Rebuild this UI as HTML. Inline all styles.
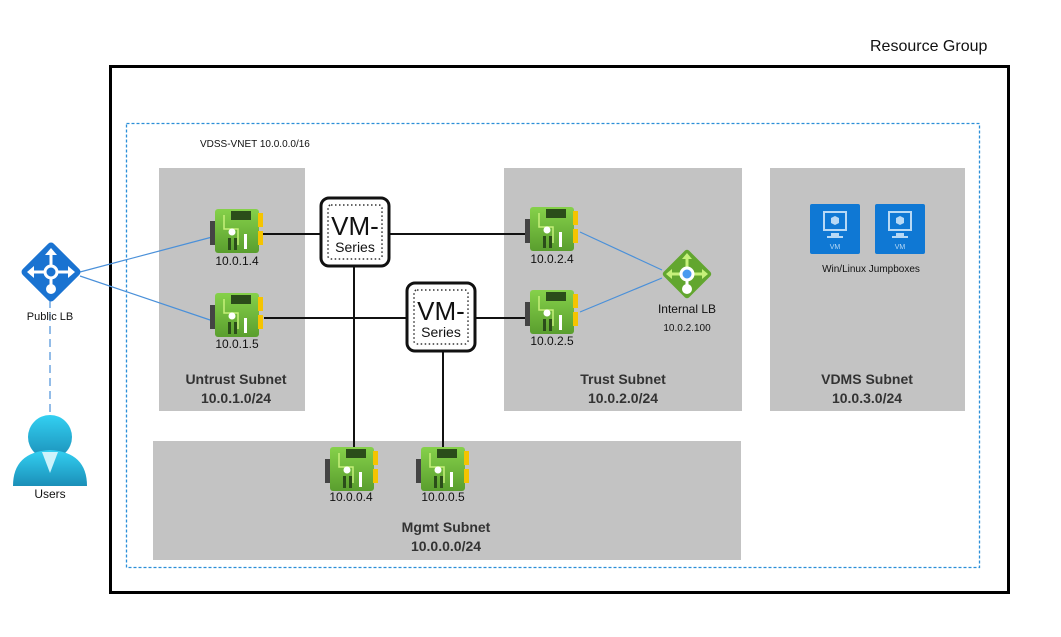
<!DOCTYPE html>
<html><head><meta charset="utf-8"><style>
body{margin:0;width:1061px;height:632px;background:#fff;overflow:hidden;font-family:"Liberation Sans",sans-serif}
</style></head><body>
<svg width="1061" height="632" xmlns="http://www.w3.org/2000/svg" font-family="Liberation Sans, sans-serif">
<defs>
<linearGradient id="g" x1="0" y1="0" x2="0" y2="1"><stop offset="0" stop-color="#86d14a"/><stop offset="1" stop-color="#5a9e2e"/></linearGradient>
<linearGradient id="u" x1="0" y1="0" x2="0" y2="1"><stop offset="0" stop-color="#33d0f2"/><stop offset="1" stop-color="#1b8fb8"/></linearGradient>
<g id="nic">
<rect x="0" y="12" width="6" height="24" fill="#444"/>
<rect x="5" y="0" width="44" height="44" rx="3" fill="url(#g)"/>
<rect x="48" y="4" width="5" height="14" fill="#f5c400"/>
<rect x="48" y="22" width="5" height="14" fill="#f5c400"/>
<rect x="21" y="2" width="20" height="9" fill="#2b4d1a"/>
<path d="M14 6 V20 H28 V36" stroke="#c6f07a" fill="none" stroke-width="1.5"/>
<circle cx="22" cy="23" r="3.5" fill="#fff"/>
<rect x="18" y="29" width="3" height="12" fill="#2b4d1a"/>
<rect x="24" y="29" width="3" height="12" fill="#2b4d1a"/>
<rect x="34" y="25" width="3" height="15" fill="#fff"/>
</g>
<g id="vm">
<rect x="0" y="0" width="68" height="68" rx="8" fill="#fff" stroke="#111" stroke-width="3"/>
<rect x="7" y="7" width="54" height="54" rx="3" fill="none" stroke="#333" stroke-width="1.5" stroke-dasharray="1.5,2.5"/>
<text x="34" y="37" font-size="26" text-anchor="middle" fill="#111">VM-</text>
<text x="34" y="54" font-size="14" text-anchor="middle" fill="#111">Series</text>
</g>
<g id="vmi">
<rect x="0" y="0" width="50" height="50" rx="2" fill="#0f78d4"/>
<rect x="14" y="8" width="22" height="18" fill="none" stroke="#b8d9f5" stroke-width="2"/>
<path d="M21 29h8v3h4v2h-16v-2h4z" fill="#b8d9f5"/>
<path d="M25 12 l4 2 v5 l-4 2 l-4-2 v-5z" fill="#b8d9f5"/>
<text x="25" y="45" font-size="7" text-anchor="middle" fill="#b8d9f5">VM</text>
</g>
</defs>
<text x="870" y="51" font-size="16" fill="#111">Resource Group</text>
<rect x="110.5" y="66.5" width="898" height="526" fill="none" stroke="#000" stroke-width="3"/>
<rect x="126.5" y="123.5" width="853" height="444" fill="none" stroke="#2b8fd8" stroke-width="1.3" stroke-dasharray="3,2"/>
<text x="200" y="147" font-size="10" fill="#111">VDSS-VNET 10.0.0.0/16</text>
<rect x="159" y="168" width="146" height="243" fill="#c3c3c3"/>
<rect x="504" y="168" width="238" height="243" fill="#c3c3c3"/>
<rect x="770" y="168" width="195" height="243" fill="#c3c3c3"/>
<rect x="153" y="441" width="588" height="119" fill="#c3c3c3"/>
<g font-weight="bold" font-size="14" fill="#333" text-anchor="middle">
<text x="236" y="384">Untrust Subnet</text><text x="236" y="403">10.0.1.0/24</text>
<text x="623" y="384">Trust Subnet</text><text x="623" y="403">10.0.2.0/24</text>
<text x="867" y="384">VDMS Subnet</text><text x="867" y="403">10.0.3.0/24</text>
<text x="446" y="532">Mgmt Subnet</text><text x="446" y="551">10.0.0.0/24</text>
</g>
<g stroke="#111" stroke-width="2">
<line x1="262" y1="234" x2="320" y2="234"/><line x1="390" y1="234" x2="527" y2="234"/>
<line x1="264" y1="318" x2="406" y2="318"/><line x1="476" y1="318" x2="527" y2="318"/>
<line x1="354" y1="265" x2="354" y2="457"/><line x1="443" y1="350" x2="443" y2="457"/>
</g>
<g stroke="#4a90d9" stroke-width="1.2">
<line x1="80" y1="272" x2="216" y2="236"/><line x1="80" y1="276" x2="216" y2="322"/>
<line x1="580" y1="232" x2="662" y2="270"/><line x1="580" y1="312" x2="662" y2="278"/>
<line x1="50" y1="300" x2="50" y2="420" stroke-dasharray="8,5"/>
</g>
<use href="#nic" x="210" y="209"/><use href="#nic" x="210" y="293"/>
<use href="#nic" x="525" y="207"/><use href="#nic" x="525" y="290"/>
<use href="#nic" x="325" y="447"/><use href="#nic" x="416" y="447"/>
<g font-size="12" fill="#111" text-anchor="middle">
<text x="237" y="265">10.0.1.4</text><text x="237" y="348">10.0.1.5</text>
<text x="552" y="263">10.0.2.4</text><text x="552" y="345">10.0.2.5</text>
<text x="351" y="501">10.0.0.4</text><text x="443" y="501">10.0.0.5</text>
</g>
<use href="#vm" x="321" y="198"/><use href="#vm" x="407" y="283"/>
<g transform="translate(51,272)">
<rect x="-22" y="-22" width="44" height="44" rx="4" transform="rotate(45)" fill="#1a73d1"/>
<g stroke="#fff" stroke-width="3" fill="#fff">
<line x1="-20" y1="0" x2="20" y2="0"/><line x1="0" y1="-20" x2="0" y2="18"/>
</g>
<path d="M0-24l-6 7h12zM-24 0l7-6v12zM24 0l-7-6v12z" fill="#fff"/>
<circle r="6" fill="#1a73d1" stroke="#fff" stroke-width="3"/>
<circle cy="17" r="5" fill="#fff"/>
</g>
<text x="50" y="320" font-size="11" fill="#111" text-anchor="middle">Public LB</text>
<circle cx="50" cy="437" r="22" fill="url(#u)"/>
<path d="M13 486 Q13 452 50 450 Q87 452 87 486 Z" fill="url(#u)"/>
<path d="M42 452 L50 473 L58 452Z" fill="#cdf3fb"/>
<text x="50" y="498" font-size="12" fill="#111" text-anchor="middle">Users</text>
<g transform="translate(687,274)">
<rect x="-18" y="-18" width="36" height="36" rx="3" transform="rotate(45)" fill="#62a62f"/>
<g stroke="#c6f07a" stroke-width="3"><line x1="-18" y1="0" x2="18" y2="0"/><line x1="0" y1="-18" x2="0" y2="0"/></g>
<path d="M0-21l-5 6h10zM-21 0l6-5v10zM21 0l-6-5v10z" fill="#c6f07a"/>
<line x1="0" y1="0" x2="0" y2="15" stroke="#fff" stroke-width="3"/>
<circle r="6" fill="#4a9af0" stroke="#fff" stroke-width="3"/>
<circle cy="15" r="5" fill="#fff"/>
</g>
<text x="687" y="313" font-size="12" fill="#111" text-anchor="middle">Internal LB</text>
<text x="687" y="331" font-size="10" fill="#111" text-anchor="middle">10.0.2.100</text>
<use href="#vmi" x="810" y="204"/><use href="#vmi" x="875" y="204"/>
<text x="871" y="272" font-size="10" fill="#111" text-anchor="middle">Win/Linux Jumpboxes</text>
</svg>
</body></html>
